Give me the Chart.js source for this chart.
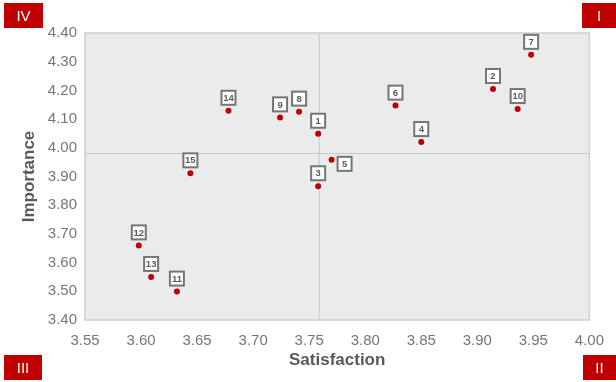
<!DOCTYPE html>
<html>
<head>
<meta charset="utf-8">
<script src="https://cdn.jsdelivr.net/npm/chart.js@4.4.1/dist/chart.umd.min.js"></script>
<style>
  html, body { margin: 0; padding: 0; background: #fff; }
  #wrap { width: 616px; height: 382px; position: relative; }
</style>
</head>
<body>
<div id="wrap"><canvas id="chart"></canvas></div>
<script>
// Item numbers with their satisfaction (x) and importance (y) scores
const items = ['1', '2', '3', '4', '5', '6', '7', '8', '9', '10', '11', '12', '13', '14', '15'];
const satisfaction = [3.758, 3.914, 3.758, 3.850, 3.770, 3.827, 3.948, 3.741, 3.724, 3.936, 3.632, 3.598, 3.609, 3.678, 3.644];
const importance = [4.049, 4.205, 3.866, 4.020, 3.958, 4.147, 4.324, 4.126, 4.106, 4.135, 3.499, 3.660, 3.550, 4.129, 3.911];

// Quadrant dividers (average scores)
const avgSatisfaction = 3.759;
const avgImportance = 3.980;

const xTicks = [3.55, 3.60, 3.65, 3.70, 3.75, 3.80, 3.85, 3.90, 3.95, 4.00];
const yTicks = [3.40, 3.50, 3.60, 3.70, 3.80, 3.90, 4.00, 4.10, 4.20, 4.30, 4.40];

const quadrants = ['I', 'II', 'III', 'IV'];

const RED = '#c00000';
const GREY_TEXT = '#595959';

Chart.defaults.font.family = '"Liberation Sans", Arial, sans-serif';

// plot background and frame
const plotBg = {
    id: 'plotBg',
    beforeDatasetsDraw(chart) {
        const { ctx, chartArea: a } = chart;
        ctx.save();
        ctx.fillStyle = '#eaebeb';
        ctx.fillRect(a.left, a.top, a.right - a.left, a.bottom - a.top);
        ctx.restore();
    },
    afterDatasetsDraw(chart) {
        const { ctx, chartArea: a } = chart;
        ctx.save();
        ctx.strokeStyle = '#cfcfcf';
        ctx.lineWidth = 1.5;
        ctx.strokeRect(a.left, a.top, a.right - a.left, a.bottom - a.top);
        ctx.restore();
    }
};

// number boxes above each point
const pointLabels = {
    id: 'pointLabels',
    afterDatasetsDraw(chart) {
        const { ctx } = chart;
        const meta = chart.getDatasetMeta(2);
        ctx.save();
        meta.data.forEach((pt, i) => {
            let cx = pt.x, cy = pt.y - 13;
            if (items[i] === '5') { cx = pt.x + 13; cy = pt.y + 4; }
            const s = 14;
            ctx.fillStyle = '#ffffff';
            ctx.fillRect(cx - s / 2, cy - s / 2, s, s);
            ctx.strokeStyle = '#757575';
            ctx.lineWidth = 2;
            ctx.strokeRect(cx - s / 2, cy - s / 2, s, s);
            ctx.fillStyle = GREY_TEXT;
            ctx.font = 'bold 9.5px "Liberation Sans", Arial, sans-serif';
            ctx.textAlign = 'center';
            ctx.textBaseline = 'middle';
            ctx.fillText(items[i], cx, cy + 0.5);
        });
        ctx.restore();
    }
};

// red quadrant tags in the corners
const quadrantTags = {
    id: 'quadrantTags',
    afterDraw(chart) {
        const { ctx } = chart;
        const boxes = {
            'IV': [4, 3, 39, 25],
            'I': [582, 3, 34, 25],
            'III': [4, 355, 38, 25],
            'II': [583, 355, 33, 25]
        };
        ctx.save();
        quadrants.forEach(q => {
            const [x, y, w, h] = boxes[q];
            ctx.fillStyle = RED;
            ctx.fillRect(x, y, w, h);
            ctx.fillStyle = '#ffffff';
            ctx.font = '15px "Liberation Sans", Arial, sans-serif';
            ctx.textAlign = 'center';
            ctx.textBaseline = 'middle';
            ctx.fillText(q, x + w / 2, y + h / 2 + 1);
        });
        ctx.restore();
    }
};

const xMin = xTicks[0], xMax = xTicks[xTicks.length - 1];
const yMin = yTicks[0], yMax = yTicks[yTicks.length - 1];

new Chart(document.getElementById('chart'), {
    type: 'scatter',
    data: {
        datasets: [
            {
                label: 'avg satisfaction',
                data: [{ x: avgSatisfaction, y: yMin }, { x: avgSatisfaction, y: yMax }],
                showLine: true,
                borderColor: '#c8c8c8',
                borderWidth: 1,
                pointRadius: 0,
                order: 2
            },
            {
                label: 'avg importance',
                data: [{ x: xMin, y: avgImportance }, { x: xMax, y: avgImportance }],
                showLine: true,
                borderColor: '#c8c8c8',
                borderWidth: 1,
                pointRadius: 0,
                order: 2
            },
            {
                label: 'items',
                data: items.map((_, i) => ({ x: satisfaction[i], y: importance[i] })),
                backgroundColor: RED,
                borderColor: RED,
                pointRadius: 3,
                pointBorderWidth: 0,
                order: 1
            }
        ]
    },
    options: {
        responsive: true,
        maintainAspectRatio: false,
        animation: false,
        layout: { padding: { top: 33, right: 26, left: 0, bottom: 0 } },
        plugins: {
            legend: { display: false },
            tooltip: { enabled: false }
        },
        scales: {
            x: {
                type: 'linear',
                min: xMin,
                max: xMax,
                afterBuildTicks: scale => { scale.ticks = xTicks.map(v => ({ value: v })); },
                afterFit: scale => { scale.height = 62; },
                grid: { display: false, drawTicks: false },
                border: { display: false },
                ticks: {
                    padding: 12,
                    color: '#767676',
                    font: { size: 15 },
                    callback: v => Number(v).toFixed(2)
                },
                title: {
                    display: true,
                    text: 'Satisfaction',
                    color: GREY_TEXT,
                    font: { size: 17, weight: 'bold' },
                    padding: { top: 0, bottom: 11 }
                }
            },
            y: {
                type: 'linear',
                min: yMin,
                max: yMax,
                afterBuildTicks: scale => { scale.ticks = yTicks.map(v => ({ value: v })); },
                afterFit: scale => { scale.width = 85; },
                grid: { display: false, drawTicks: false },
                border: { display: false },
                ticks: {
                    padding: 8,
                    color: '#767676',
                    font: { size: 15 },
                    callback: v => Number(v).toFixed(2)
                },
                title: {
                    display: true,
                    text: 'Importance',
                    color: GREY_TEXT,
                    font: { size: 17, weight: 'bold' },
                    padding: { top: 19, bottom: 0 }
                }
            }
        }
    },
    plugins: [plotBg, pointLabels, quadrantTags]
});
</script>
</body>
</html>
